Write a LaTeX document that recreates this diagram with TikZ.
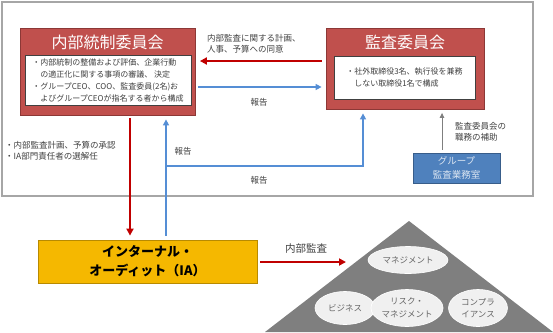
\documentclass[tikz,border=0pt]{standalone}
\usepackage{fontspec}
\setmainfont{Noto Sans CJK JP}
\usepackage{tikz}
\usetikzlibrary{arrows.meta, calc, positioning, shapes.geometric}
\definecolor{framegray}{HTML}{A6A6A6}
\definecolor{redfill}{HTML}{C0504D}
\definecolor{redbd}{HTML}{8C3836}
\definecolor{arrred}{HTML}{C00000}
\definecolor{arrblue}{HTML}{558ED5}
\definecolor{arrgray}{HTML}{7F7F7F}
\definecolor{iagold}{HTML}{F5B800}
\definecolor{iagoldbd}{HTML}{B88A00}
\definecolor{grpblue}{HTML}{4F81BD}
\definecolor{grpbluebd}{HTML}{385D8A}
\definecolor{grptext}{HTML}{DCE6F2}
\definecolor{pyrgray}{HTML}{7F7F7F}
\definecolor{ellfill}{HTML}{F0F0F0}
\definecolor{txtgray}{HTML}{404040}
\tikzset{
  glowbox/.style  = {rectangle, inner sep=0pt, line width=0.8pt,
                     preaction={draw=black!22, line width=6.4pt},
                     preaction={draw=white, line width=5.2pt}},
  redbox/.style   = {glowbox, draw=redbd, fill=redfill},
  boxtitle/.style = {font=\fontsize{16}{18}\selectfont, text=white, inner sep=0pt},
  memobox/.style  = {rectangle, draw=black!75, fill=white, line width=0.6pt,
                     inner sep=0pt, align=left, text=txtgray,
                     font=\fontsize{8}{11.7}\selectfont},
  iabox/.style    = {glowbox, draw=iagoldbd, fill=iagold, align=center,
                     font=\bfseries\fontsize{13}{19}\selectfont},
  grpbox/.style   = {glowbox, draw=grpbluebd, fill=grpblue, align=center,
                     text=grptext, font=\fontsize{9.5}{14}\selectfont},
  lab/.style      = {font=\fontsize{8.5}{11}\selectfont, text=txtgray,
                     align=left, inner sep=0pt},
  layer/.style    = {ellipse, fill=ellfill, draw=white, line width=0.6pt,
                     inner sep=0pt, align=center, text=black!60,
                     font=\fontsize{8.5}{12.5}\selectfont},
  redarrow/.style  = {draw=arrred, line width=1.8pt,
                      -{Triangle[length=7pt, width=7pt]}},
  bluearrow/.style = {draw=arrblue, line width=1.8pt,
                      -{Triangle[length=6pt, width=6pt]}},
  grayarrow/.style = {draw=arrgray, line width=1pt,
                      -{Triangle[length=5pt, width=4.5pt]}},
}

\begin{document}
\begin{tikzpicture}[x=1pt, y=-1pt]
  \useasboundingbox (0,0) rectangle (553,332);
  \draw[draw=framegray, line width=1.3pt] (2,2) rectangle (533,196);
  % committees
  \node[redbox, minimum width=175pt, minimum height=87pt] (icc) at (107.5,71.5) {};
  \node[boxtitle] (icctitle) at (107.5,42) {内部統制委員会};
  \node[memobox, minimum width=166pt, minimum height=50pt] (iccmemo) at (108,80.5)
    {・内部統制の整備および評価、企業行動\\
     　の適正化に関する事項の審議、 決定\\
     ・グループCEO、COO、監査委員(2名)お\\
     　よびグループCEOが指名する者から構成};
  \node[redbox, minimum width=158pt, minimum height=81pt] (ac) at (405,68.5) {};
  \node[boxtitle] (actitle) at (405,42) {監査委員会};
  \node[memobox, minimum width=141pt, minimum height=43pt] (acmemo) at (404.5,77.5)
    {・社外取締役3名、執行役を兼務\\
     　しない取締役1名で構成};
  \node[grpbox, minimum width=87pt, minimum height=30pt] (gaud) at (456.5,168)
    {グループ\\監査業務室};
  \node[iabox, minimum width=219pt, minimum height=43pt] (ia) at (147.5,261.5)
    {インターナル・\\オーディット（IA）};
  % audit universe
  \fill[pyrgray] (409,221) -- (553,332) -- (265,332) -- cycle;
  \node[layer, minimum width=80pt, minimum height=27pt] (mgmt) at (408,260) {マネジメント};
  \node[layer, minimum width=60pt, minimum height=33pt] (biz) at (345,308) {ビジネス};
  \node[layer, minimum width=60pt, minimum height=37pt] (risk) at (407,308) {リスク・\\マネジメント};
  \node[layer, minimum width=59pt, minimum height=37pt] (comp) at (478,308) {コンプラ\\イアンス};
  % connectors
  \coordinate (redlvl) at (0,61);
  \coordinate (bluelvl) at (0,87);
  \coordinate (redx) at (130,0);
  \coordinate (bluex) at (166,0);
  \coordinate (risex) at (363,0);
  \coordinate (grayx) at (442,0);
  \coordinate (bend) at (166,166);
  \coordinate (iatgt) at (346,262);
  \draw[redarrow, shorten <=4pt, shorten >=4.5pt] (ac.west |- redlvl) -- (icc.east |- redlvl);
  \draw[bluearrow, shorten <=3pt, shorten >=4pt] (icc.east |- bluelvl) -- (ac.west |- bluelvl);
  \draw[redarrow, shorten <=3pt, shorten >=4pt] (icc.south -| redx) -- (ia.north -| redx);
  \draw[bluearrow, shorten <=4pt, shorten >=4pt] (ia.north -| bluex) -- (bend)
    -- (bend -| risex) -- (ac.south -| risex);
  \draw[bluearrow, shorten >=4pt] (bend) -- (icc.south -| bluex);
  \draw[grayarrow, shorten <=3pt, shorten >=3.5pt] (gaud.north -| grayx) -- (ac.south -| grayx);
  \draw[redarrow, shorten <=3pt] (ia.east |- iatgt) -- (iatgt);
  % labels
  \node[lab, anchor=west] (lplan) at (207,43.5) {内部監査に関する計画、\\人事、予算への同意};
  \node[lab] (lrep1) at (259,102) {報告};
  \node[lab] (lrep2) at (183,151) {報告};
  \node[lab] (lrep3) at (259,180) {報告};
  \node[lab, anchor=west] (lsupp) at (455,131.5) {監査委員会の\\職務の補助};
  \node[lab, anchor=west] (lappr) at (5,150.5) {・内部監査計画、予算の承認\\・IA部門責任者の選解任};
  \node[lab, font=\fontsize{10.5}{12}\selectfont] (lia) at (306,249) {内部監査};
\end{tikzpicture}
\end{document}
